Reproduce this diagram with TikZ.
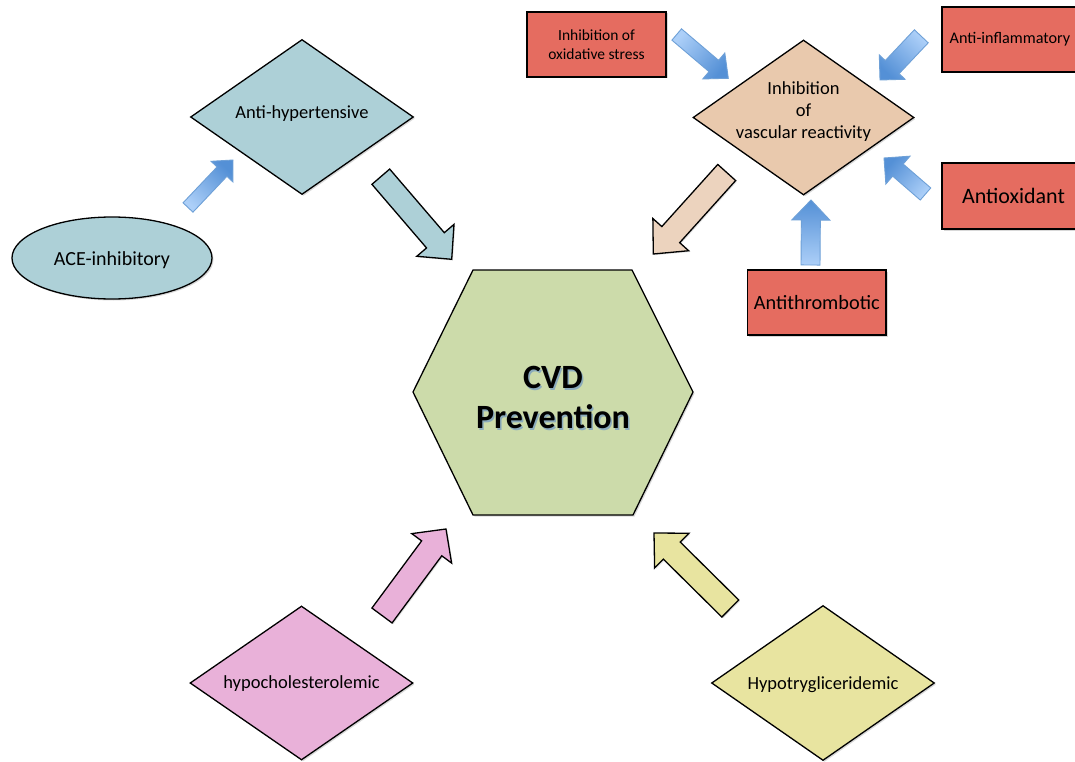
\documentclass[tikz,border=0pt]{standalone}
\usepackage{fontspec}
\setmainfont{Carlito}
\usetikzlibrary{shapes.geometric,shadows}
\definecolor{tealfill}{RGB}{173,208,215}
\definecolor{beigefill}{RGB}{233,201,173}
\definecolor{beigearr}{RGB}{236,211,190}
\definecolor{redfill}{RGB}{229,108,96}
\definecolor{greenfill}{RGB}{204,219,170}
\definecolor{pinkfill}{RGB}{233,177,217}
\definecolor{yellowfill}{RGB}{232,228,160}
\definecolor{bluelight}{RGB}{172,207,248}
\definecolor{bluedark}{RGB}{84,144,214}
\definecolor{blueedge}{RGB}{110,160,215}
\definecolor{glowblue}{RGB}{110,150,195}

% block arrow: [style]{from}{to}{shaft half width}{head half width}{head length}
\newcommand\blockarrow[6][]{%
  \pgfpointanchor{#2}{center}\pgfgetlastxy{\BAxr}{\BAyr}%
  \pgfpointanchor{#3}{center}\pgfgetlastxy{\BBxr}{\BByr}%
  \pgfmathsetmacro\BAx{\BAxr}\pgfmathsetmacro\BAy{\BAyr}%
  \pgfmathsetmacro\BBx{\BBxr}\pgfmathsetmacro\BBy{\BByr}%
  \pgfmathsetmacro\BAdx{\BBx-(\BAx)}%
  \pgfmathsetmacro\BAdy{\BBy-(\BAy)}%
  \pgfmathsetmacro\BAlen{veclen(\BAdx,\BAdy)}%
  \pgfmathsetmacro\BAux{(\BAdx)/\BAlen}%
  \pgfmathsetmacro\BAuy{(\BAdy)/\BAlen}%
  \pgfmathsetmacro\BAnx{0-(\BAuy)}%
  \pgfmathsetmacro\BAny{\BAux}%
  \pgfmathsetmacro\BAcx{\BBx-#6*(\BAux)}%
  \pgfmathsetmacro\BAcy{\BBy-#6*(\BAuy)}%
  \pgfmathsetmacro\BAang{atan2(\BAdy,\BAdx)-90}%
  \pgfmathsetmacro\Pax{\BAx+#4*(\BAnx)}\pgfmathsetmacro\Pay{\BAy+#4*(\BAny)}%
  \pgfmathsetmacro\Pbx{\BAcx+#4*(\BAnx)}\pgfmathsetmacro\Pby{\BAcy+#4*(\BAny)}%
  \pgfmathsetmacro\Pcx{\BAcx+#5*(\BAnx)}\pgfmathsetmacro\Pcy{\BAcy+#5*(\BAny)}%
  \pgfmathsetmacro\Pdx{\BAcx-#5*(\BAnx)}\pgfmathsetmacro\Pdy{\BAcy-#5*(\BAny)}%
  \pgfmathsetmacro\Pex{\BAcx-#4*(\BAnx)}\pgfmathsetmacro\Pey{\BAcy-#4*(\BAny)}%
  \pgfmathsetmacro\Pfx{\BAx-#4*(\BAnx)}\pgfmathsetmacro\Pfy{\BAy-#4*(\BAny)}%
  \draw[#1] (\Pax pt,\Pay pt) -- (\Pbx pt,\Pby pt) -- (\Pcx pt,\Pcy pt)
    -- (\BBx pt,\BBy pt) -- (\Pdx pt,\Pdy pt) -- (\Pex pt,\Pey pt) -- (\Pfx pt,\Pfy pt) -- cycle;%
}

\begin{document}
\begin{tikzpicture}[x=1pt,y=-1pt,
  base/.style={font=\fontsize{18.5}{22}\selectfont},
  shp/.style={draw=black, line width=1.3pt, line join=miter,
    drop shadow={shadow xshift=1.5pt,shadow yshift=-1.5pt,opacity=0.3}},
  dia/.style={shp, shape=diamond, inner sep=0pt, minimum width=223pt, minimum height=155pt},
  redbox/.style={shp, fill=redfill, rectangle, inner sep=0pt, minimum height=65pt, align=center},
  bluearr/.style={top color=bluedark, bottom color=bluelight, shading angle=\BAang,
    draw=blueedge, line width=0.9pt, line join=miter},
  blkarr/.style={draw=black, line width=1.3pt, line join=miter,
    drop shadow={shadow xshift=1.2pt,shadow yshift=-1.2pt,opacity=0.25}},
  cvdfont/.style={font=\bfseries\fontsize{34}{40}\selectfont, align=center}
]
\fill[white] (0,0) rectangle (1075,762);
\useasboundingbox (0,0) rectangle (1075,762);

% left group
\node[shp, ellipse, fill=tealfill, minimum width=200pt, minimum height=82pt, inner sep=0pt,
  label={[font=\fontsize{20}{24}\selectfont,yshift=-2.5pt]center:ACE-inhibitory}] (ace) at (112,258) {};
\node[dia, fill=tealfill, label={[base,yshift=3.5pt]center:Anti-hypertensive}] (antihyp) at (302,117) {};

% top right group
\node[dia, fill=beigefill, minimum width=221pt, label={[base,align=center,yshift=6pt]center:Inhibition\\of\\vascular reactivity}] (vasc) at (803.5,117.5) {};
\node[redbox, minimum width=139pt, font=\fontsize{15.5}{19}\selectfont] (oxid) at (596.5,44.5) {Inhibition of\\oxidative stress};
\node[redbox, minimum width=136pt, font=\fontsize{16.2}{19}\selectfont] (infl) at (1010,39.5) {Anti-inflammatory};
\node[redbox, minimum width=143pt, minimum height=66pt, font=\fontsize{22}{26}\selectfont] (antiox) at (1013.5,196) {Antioxidant};
\node[redbox, minimum width=138.5pt, font=\fontsize{20.3}{24}\selectfont] (antithr) at (816.75,302.5) {Antithrombotic};

% centre
\draw[shp, fill=greenfill] (413,392) -- (473,270) -- (632,270) -- (693,392) -- (633,515) -- (473,515) -- cycle;
\node[cvdfont, text=glowblue, opacity=0.7] (cvdglow) at (554.5,399.5) {CVD\\Prevention};
\node[cvdfont] (cvd) at (553,397.5) {CVD\\Prevention};

% bottom
\node[dia, fill=pinkfill, minimum height=154pt, label={[base,yshift=-1pt]center:hypocholesterolemic}] (hypochol) at (301.5,683) {};
\node[dia, fill=yellowfill, label={[base,yshift=-2pt]center:Hypotrygliceridemic}] (hypotri) at (823,683) {};

% arrow end points
\coordinate (a1s) at (188,207.5);   \coordinate (a1e) at (233,160);
\coordinate (a2s) at (380.8,176.7); \coordinate (a2e) at (451.7,259.3);
\coordinate (a3s) at (726.7,172.5); \coordinate (a3e) at (653.3,254);
\coordinate (a4s) at (676.7,34.5);  \coordinate (a4e) at (728.3,78.3);
\coordinate (a5s) at (921.3,36.3);  \coordinate (a5e) at (880,80);
\coordinate (a6s) at (925.5,194);   \coordinate (a6e) at (884,158);
\coordinate (a7s) at (810.5,265);   \coordinate (a7e) at (811,200);
\coordinate (a8s) at (382,615.5);   \coordinate (a8e) at (446,529);
\coordinate (a9s) at (730.3,608.5); \coordinate (a9e) at (654,533);

\blockarrow[bluearr]{a1s}{a1e}{6.8}{15}{16}
\blockarrow[blkarr, fill=tealfill]{a2s}{a2e}{11.7}{24.5}{25}
\blockarrow[blkarr, fill=beigearr]{a3s}{a3e}{12}{24}{26}
\blockarrow[bluearr]{a4s}{a4e}{7.4}{17}{19}
\blockarrow[bluearr]{a5s}{a5e}{9.5}{17.7}{17.7}
\blockarrow[bluearr]{a6s}{a6e}{8}{18.4}{18.4}
\blockarrow[bluearr]{a7s}{a7e}{9.5}{19}{20}
\blockarrow[blkarr, fill=pinkfill]{a8s}{a8e}{12.5}{24.7}{24}
\blockarrow[blkarr, fill=yellowfill]{a9s}{a9e}{12}{24.4}{25}
\end{tikzpicture}
\end{document}
